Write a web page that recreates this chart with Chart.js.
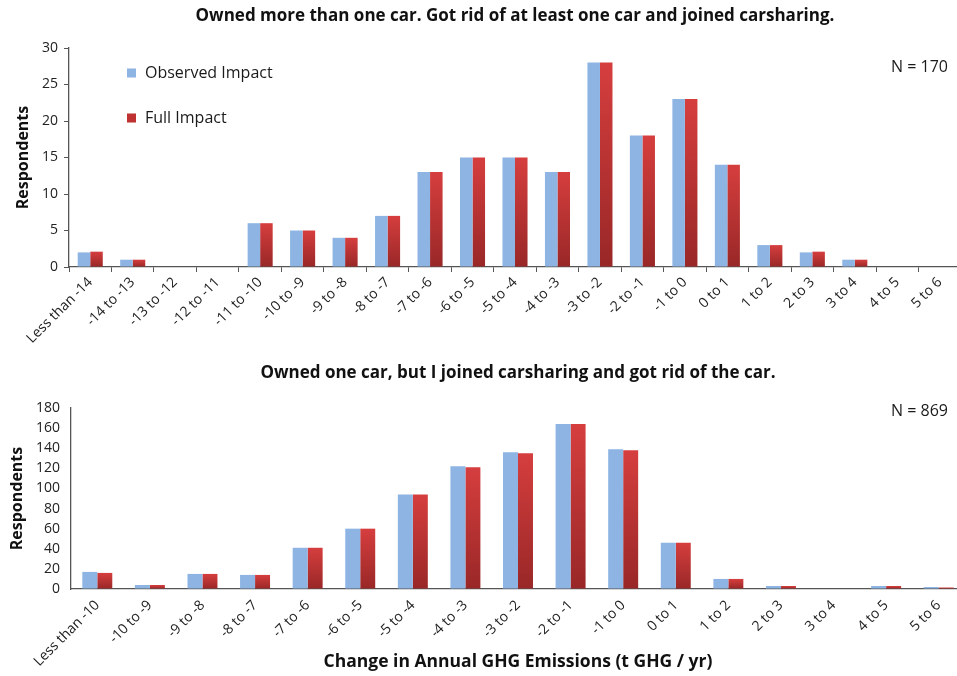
<!DOCTYPE html>
<html>
<head>
<meta charset="utf-8">
<script src="https://cdn.jsdelivr.net/npm/chart.js@4.4.1/dist/chart.umd.min.js"></script>
<style>
  html, body { margin: 0; padding: 0; background: #fff; overflow: hidden; }
  #wrap { position: relative; width: 957px; height: 676px; overflow: hidden; }
  canvas { position: absolute; left: 0; }
  #topChart { top: 0; }
  #bottomChart { top: 340px; }
</style>
</head>
<body>
<div id="wrap">
  <canvas id="topChart" width="975" height="352"></canvas>
  <canvas id="bottomChart" width="975" height="336"></canvas>
</div>
<script>
// --- data ---
const topCategories = ['Less than -14', '-14 to -13', '-13 to -12', '-12 to -11', '-11 to -10',
  '-10 to -9', '-9 to -8', '-8 to -7', '-7 to -6', '-6 to -5', '-5 to -4', '-4 to -3',
  '-3 to -2', '-2 to -1', '-1 to 0', '0 to 1', '1 to 2', '2 to 3', '3 to 4', '4 to 5', '5 to 6'];
const topObserved = [2, 1, 0, 0, 6, 5, 4, 7, 13, 15, 15, 13, 28, 18, 23, 14, 3, 2, 1, 0, 0];
const topFull     = [2.1, 1, 0, 0, 6, 5, 4, 7, 13, 15, 15, 13, 28, 18, 23, 14, 3, 2.1, 1, 0, 0];

const bottomCategories = ['Less than -10', '-10 to -9', '-9 to -8', '-8 to -7', '-7 to -6',
  '-6 to -5', '-5 to -4', '-4 to -3', '-3 to -2', '-2 to -1', '-1 to 0', '0 to 1',
  '1 to 2', '2 to 3', '3 to 4', '4 to 5', '5 to 6'];
const bottomObserved = [17, 4, 15, 14, 41, 60, 94, 122, 136, 164, 139, 46, 10, 3, 0, 3, 2];
const bottomFull     = [16, 4, 15, 14, 41, 60, 94, 121, 135, 164, 138, 46, 10, 3, 0, 3, 1.5];

const seriesNames = ['Observed Impact', 'Full Impact'];

const FONT = "'Open Sans', 'DejaVu Sans', sans-serif";
const BLUE = '#8db4e3';
const AXIS = '#555555';

// red bars fade from a light top to a darker base, per bar
function redFill(ctx) {
  const chart = ctx.chart;
  if (!chart.chartArea || ctx.type !== 'data') return '#c23636';
  const y = chart.scales.y;
  const top = y.getPixelForValue(ctx.raw);
  const base = y.getPixelForValue(0);
  if (base - top < 1) return '#b83232';
  const g = chart.ctx.createLinearGradient(0, top, 0, base);
  g.addColorStop(0, '#d63e3e');
  g.addColorStop(1, '#992727');
  return g;
}

// legend drawn inside the plot, like the original
const insideLegend = {
  id: 'insideLegend',
  afterDraw(chart, args, opts) {
    if (!opts.show) return;
    const c = chart.ctx;
    c.save();
    c.font = '16px ' + FONT;
    c.textBaseline = 'middle';
    chart.data.datasets.forEach((ds, i) => {
      const y = opts.y + i * opts.gap;
      c.fillStyle = i === 0 ? BLUE : '#c03232';
      c.fillRect(opts.x, y - 4.5, 9, 9);
      c.fillStyle = '#1a1a1a';
      c.fillText(ds.label, opts.x + 18, y);
    });
    c.restore();
  }
};

// "N = ..." note at the top right
const countNote = {
  id: 'countNote',
  afterDraw(chart, args, opts) {
    const c = chart.ctx;
    c.save();
    c.font = '16px ' + FONT;
    c.fillStyle = '#1a1a1a';
    c.textAlign = 'right';
    c.textBaseline = 'middle';
    c.fillText(opts.text, opts.x, opts.y);
    c.restore();
  }
};

function makeChart(id, cfg) {
  return new Chart(document.getElementById(id), {
    type: 'bar',
    data: {
      labels: cfg.labels,
      datasets: [
        { label: seriesNames[0], data: cfg.observed, backgroundColor: BLUE,
          barPercentage: 1, categoryPercentage: cfg.catPct },
        { label: seriesNames[1], data: cfg.full, backgroundColor: redFill,
          barPercentage: 1, categoryPercentage: cfg.catPct }
      ]
    },
    options: {
      responsive: false,
      animation: false,
      layout: { padding: { left: 0, right: cfg.padRight, top: 0, bottom: 0 } },
      plugins: {
        legend: { display: false },
        tooltip: { enabled: false },
        title: {
          display: true,
          text: cfg.title,
          fullSize: false,
          color: '#111',
          font: { family: FONT, size: 17, weight: 'bold' },
          padding: cfg.titlePad
        },
        insideLegend: cfg.legend,
        countNote: cfg.note
      },
      scales: {
        x: {
          grid: { display: true, drawOnChartArea: false, drawTicks: cfg.xTicks,
                  tickLength: 5, color: AXIS, offset: true },
          border: { color: AXIS, width: 1.3 },
          ticks: { autoSkip: false, minRotation: 45, maxRotation: 45, color: '#222',
                   padding: cfg.xLabelPad, font: { family: FONT, size: 14 } },
          title: cfg.xTitle,
          afterFit(scale) { scale.height = cfg.xHeight; }
        },
        y: {
          min: 0,
          max: cfg.yMax,
          grid: { display: true, drawOnChartArea: false, drawTicks: cfg.yTicks,
                  tickLength: 5, color: AXIS },
          border: { color: AXIS, width: 1.3 },
          ticks: { stepSize: cfg.yStep, color: '#222', padding: cfg.yLabelPad,
                   font: { family: FONT, size: 14 } },
          title: {
            display: true,
            text: 'Respondents',
            color: '#111',
            font: { family: FONT, size: 16, weight: 'bold' },
            padding: { top: cfg.yTitlePad, bottom: 0 }
          },
          afterFit(scale) { scale.width = cfg.yWidth; }
        }
      }
    },
    plugins: [insideLegend, countNote]
  });
}

makeChart('topChart', {
  labels: topCategories,
  observed: topObserved,
  full: topFull,
  catPct: 0.59,
  padRight: 14,
  title: 'Owned more than one car. Got rid of at least one car and joined carsharing.',
  titlePad: { top: 5.8, bottom: 21.8 },
  xTicks: true,
  xLabelPad: 2,
  xHeight: 85,
  xTitle: { display: false },
  yMax: 30,
  yStep: 5,
  yTicks: true,
  yLabelPad: 6,
  yWidth: 69,
  yTitlePad: 14,
  legend: { show: true, x: 127, y: 73, gap: 45 },
  note: { text: 'N = 170', x: 948, y: 67 }
});

makeChart('bottomChart', {
  labels: bottomCategories,
  observed: bottomObserved,
  full: bottomFull,
  catPct: 0.57,
  padRight: 10,
  title: 'Owned one car, but I joined carsharing and got rid of the car.',
  titlePad: { top: 23.1, bottom: 24.5 },
  xTicks: false,
  xLabelPad: 8,
  xHeight: 87,
  xTitle: {
    display: true,
    text: 'Change in Annual GHG Emissions (t GHG / yr)',
    color: '#111',
    font: { family: FONT, size: 17.5, weight: 'bold' },
    padding: { top: 0, bottom: 3 }
  },
  yMax: 180,
  yStep: 20,
  yTicks: false,
  yLabelPad: 11,
  yWidth: 71,
  yTitlePad: 7.5,
  legend: { show: false },
  note: { text: 'N = 869', x: 948, y: 71 }
});
</script>
</body>
</html>
